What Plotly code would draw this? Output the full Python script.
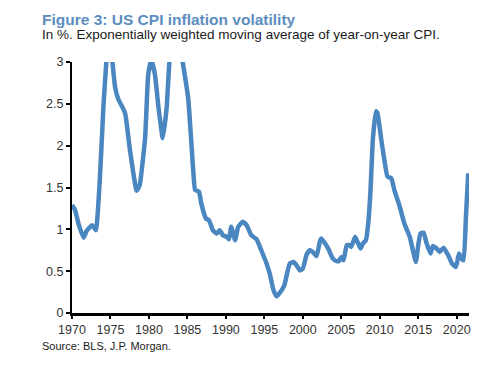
import plotly.graph_objects as go

years = [1970.0, 1970.4, 1970.9, 1971.5, 1971.9, 1972.6, 1973.1, 1973.6, 1974.1, 1974.5, 1974.85, 1975.2,
         1975.6, 1976.0, 1976.9, 1977.5, 1978.4, 1978.8, 1979.5, 1979.9, 1980.3, 1980.8, 1981.2, 1981.8,
         1982.3, 1982.7, 1983.5, 1984.3, 1985.1, 1985.75, 1986.0, 1986.5, 1986.8, 1987.4, 1987.8, 1988.3,
         1988.8, 1989.2, 1989.6, 1990.1, 1990.4, 1990.7, 1991.2, 1991.6, 1992.2, 1992.7, 1993.3, 1994.0,
         1994.6, 1995.3, 1995.7, 1996.2, 1996.6, 1997.0, 1997.6, 1997.9, 1998.3, 1998.8, 1999.2, 1999.6,
         2000.0, 2000.5, 2000.9, 2001.3, 2001.8, 2002.2, 2002.4, 2002.9, 2003.3, 2003.9, 2004.4, 2004.7,
         2005.0, 2005.3, 2005.7, 2006.1, 2006.3, 2006.8, 2007.2, 2007.5, 2007.8, 2008.2, 2008.5, 2008.8,
         2009.1, 2009.5, 2009.7, 2010.2, 2010.6, 2011.0, 2011.5, 2011.9, 2012.6, 2013.2, 2013.9, 2014.3,
         2014.7, 2015.0, 2015.3, 2015.7, 2016.1, 2016.6, 2016.9, 2017.4, 2017.8, 2018.3, 2018.9, 2019.4,
         2019.9, 2020.3, 2020.6, 2020.9, 2021.2, 2021.5]
volatility = [1.29, 1.23, 1.05, 0.90, 0.98, 1.05, 0.99, 1.57, 2.49, 3.05, 3.4, 3.05,
              2.70, 2.56, 2.39, 1.97, 1.46, 1.53, 2.09, 2.84, 3.03, 2.84, 2.49, 2.09,
              2.45, 3.05, 3.5, 3.05, 2.57, 1.71, 1.47, 1.45, 1.31, 1.13, 1.11, 0.99,
              0.95, 0.99, 0.93, 0.91, 0.88, 1.03, 0.87, 1.03, 1.09, 1.05, 0.93, 0.88,
              0.75, 0.59, 0.47, 0.27, 0.20, 0.24, 0.33, 0.45, 0.59, 0.61, 0.57, 0.51,
              0.53, 0.70, 0.75, 0.73, 0.68, 0.85, 0.89, 0.83, 0.77, 0.65, 0.62, 0.62,
              0.67, 0.63, 0.81, 0.81, 0.79, 0.91, 0.83, 0.77, 0.83, 0.87, 1.07, 1.47,
              2.07, 2.41, 2.39, 2.07, 1.83, 1.63, 1.61, 1.47, 1.27, 1.07, 0.91, 0.75,
              0.61, 0.81, 0.95, 0.96, 0.83, 0.71, 0.80, 0.77, 0.73, 0.78, 0.69, 0.59,
              0.55, 0.71, 0.65, 0.63, 1.15, 1.67]

x_ticks = [1970, 1975, 1980, 1985, 1990, 1995, 2000, 2005, 2010, 2015, 2020]
y_ticks = [0, 0.5, 1, 1.5, 2, 2.5, 3]
y_tick_labels = ["0", "0.5", "1", "1.5", "2", "2.5", "3"]

title_text = "Figure 3: US CPI inflation volatility"
subtitle_text = "In %. Exponentially weighted moving average of year-on-year CPI."
source_text = "Source: BLS, J.P. Morgan."

# page body has an 8px default margin; compensate so the chart lands where the reference has it
OFF = 8
L, R, T, B = 72 - OFF, 31 + OFF, 62 - OFF, 53 + OFF

fig = go.Figure()
fig.add_trace(go.Scatter(x=years, y=volatility, mode="lines",
                         line=dict(color="#4a86c0", width=4.5, shape="spline", smoothing=0.4),
                         hoverinfo="skip", showlegend=False))

font_main = "Liberation Sans, Arial, sans-serif"
fig.update_layout(
    width=500, height=366,
    margin=dict(l=L, r=R, t=T, b=B),
    paper_bgcolor="white", plot_bgcolor="white",
    font=dict(family=font_main, size=12, color="#333333"),
    xaxis=dict(range=[1970, 2021.6], tickvals=x_ticks, ticktext=[str(t) for t in x_ticks],
               showgrid=False, zeroline=False, showline=True, linecolor="black", linewidth=3,
               ticks="outside", ticklen=3, tickcolor="black", tickwidth=2,
               tickfont=dict(size=12.5, color="#333333")),
    yaxis=dict(range=[0, 3], tickvals=y_ticks, ticktext=y_tick_labels,
               showgrid=False, zeroline=False, showline=True, linecolor="black", linewidth=2,
               ticks="outside", ticklen=4, tickcolor="black", tickwidth=2,
               tickfont=dict(size=12.5, color="#333333")),
    annotations=[
        dict(text="<b>" + title_text + "</b>", x=40, y=20, xref="paper", yref="paper",
             showarrow=False, xanchor="left", yanchor="middle",
             font=dict(family="Liberation Sans Narrow, Arial Narrow, Liberation Sans, Arial", size=15.5, color="#5b8dbf")),
        dict(text=subtitle_text, x=40, y=34, xref="paper", yref="paper",
             showarrow=False, xanchor="left", yanchor="middle",
             font=dict(family=font_main, size=13.5, color="#1a1a1a")),
        dict(text=source_text, x=40, y=346, xref="paper", yref="paper",
             showarrow=False, xanchor="left", yanchor="middle",
             font=dict(family=font_main, size=11, color="#1a1a1a")),
    ],
)

# convert target screen-pixel positions for annotations to paper coords
pw = 500 - L - R
ph = 366 - T - B
for a in fig.layout.annotations:
    px, py = a.x - OFF, a.y - OFF
    a.x = (px - L) / pw
    a.y = 1 - (py - T) / ph

fig.write_html("out.html")
